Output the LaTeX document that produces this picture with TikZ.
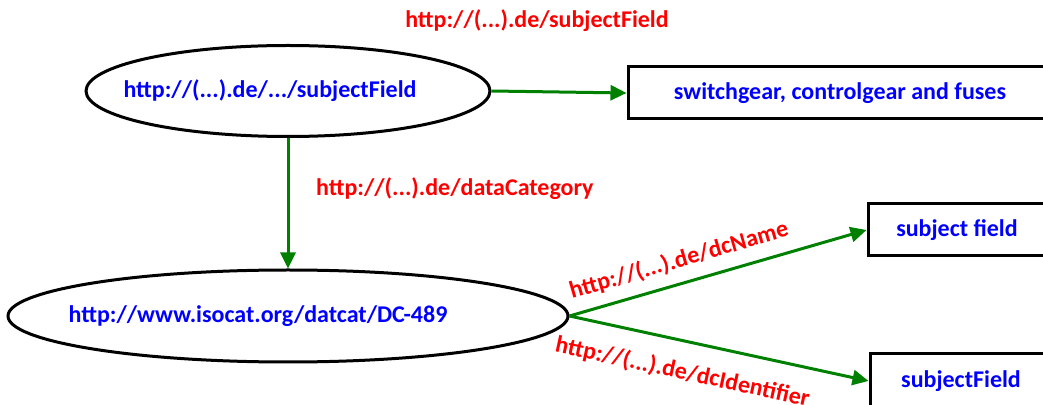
\documentclass[tikz,border=0pt]{standalone}
\usepackage{fontspec}
\setmainfont{Carlito}
\usetikzlibrary{shapes.geometric,arrows.meta}
\definecolor{linkgreen}{RGB}{0,128,0}
\definecolor{uriblue}{RGB}{0,0,255}
\definecolor{propred}{RGB}{255,0,0}
\begin{document}
\begin{tikzpicture}[x=0.5pt,y=-0.5pt,
        every node/.style={font=\fontsize{12}{14}\selectfont\bfseries},
        res/.style={draw,ellipse,line width=1.5pt,text=uriblue,inner sep=0pt},
        lit/.style={draw,rectangle,line width=1.5pt,text=uriblue,minimum height=26pt},
        link/.style={draw=linkgreen,line width=1.5pt,-{Triangle[length=8pt,width=7.5pt]}},
        prop/.style={text=propred}]
        \useasboundingbox (0,0) rectangle (1043,405);
        % resources
        \node[res,minimum width=202pt,minimum height=45.5pt] (field) at (288,91) {\hspace*{-18pt}http://(...).de/.../subjectField};
        \node[res,minimum width=280pt,minimum height=46pt] (dc) at (288,316) {\hspace*{-30pt}http://www.isocat.org/datcat/DC-489};
        % literals
        \node[lit,minimum width=212pt] (fuses) at (840,93) {switchgear, controlgear and fuses};
        \node[lit,minimum width=89pt] (name) at (957,230) {subject field};
        \node[lit,minimum width=91pt,minimum height=27pt] (ident) at (961,381) {subjectField};
        % properties
        \node[prop] (fieldprop) at (537,21) {http://(...).de/subjectField};
        \draw[link] (field.east) -- (fuses.west);
        \draw[link] (field.south) -- node[prop,pos=0.39,right=10pt] {http://(...).de/dataCategory} (dc.north);
        \draw[link] (dc.east) -- node[prop,sloped,pos=0.39,above=2pt] {http://(...).de/dcName} (name.west);
        \draw[link] (dc.east) -- node[prop,sloped,pos=0.40,below=6pt] {http://(...).de/dcIdentifier} (ident.west);
    \end{tikzpicture}
\end{document}
